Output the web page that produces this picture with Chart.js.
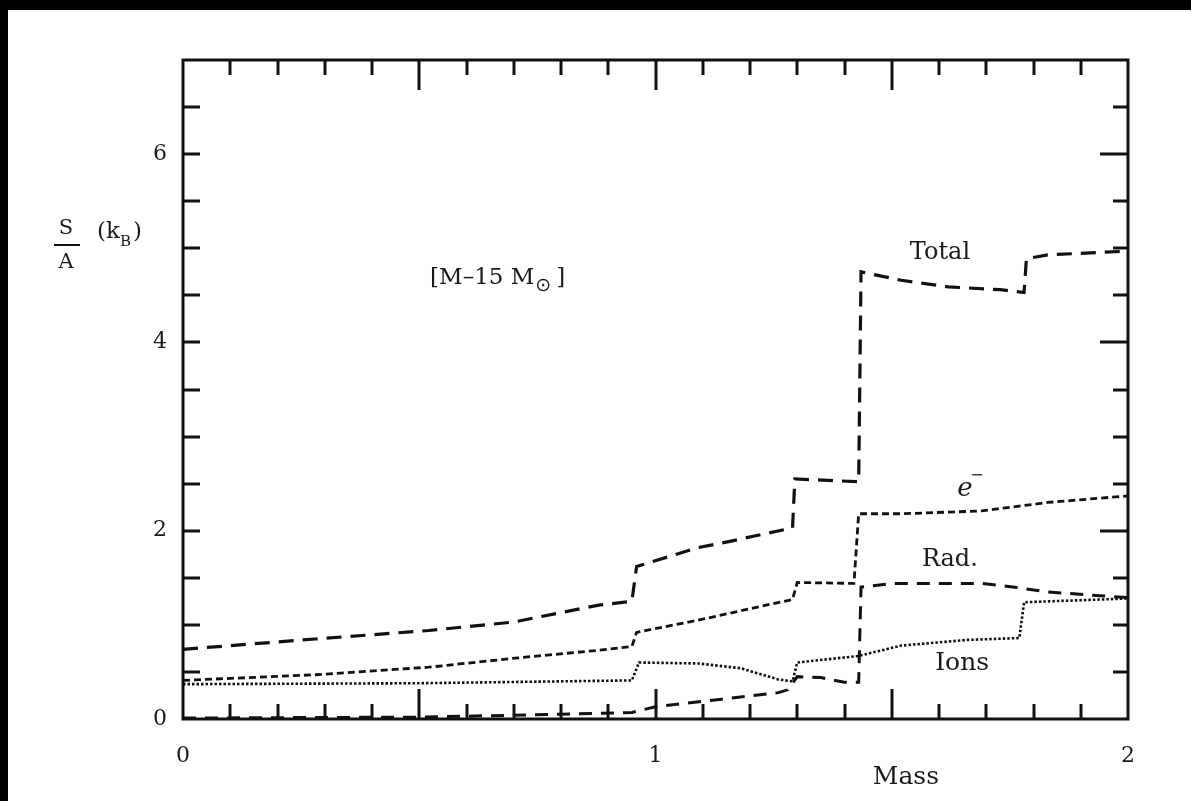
<!DOCTYPE html>
<html><head><meta charset="utf-8">
<script src="https://cdn.jsdelivr.net/npm/chart.js@4.4.1/dist/chart.umd.min.js"></script>
<style>
html,body{margin:0;padding:0;background:#000;width:1191px;height:801px;overflow:hidden}
#wrap{position:absolute;left:8px;top:10px;width:1183px;height:791px;background:#fff}
canvas{display:block}
</style></head><body>
<div id="wrap"><canvas id="c" width="1183" height="791"></canvas></div>
<script>
// ---- data (Mass in x, S/A in k_B in y) ----
const totalMass = [0, 0.28, 0.52, 0.70, 0.88, 0.95, 0.96, 1.09, 1.16, 1.29, 1.295, 1.43, 1.435, 1.52, 1.62, 1.73, 1.78, 1.785, 1.83, 2.0];
const totalS    = [0.74, 0.85, 0.94, 1.03, 1.21, 1.25, 1.62, 1.82, 1.89, 2.03, 2.55, 2.52, 4.75, 4.66, 4.59, 4.56, 4.53, 4.89, 4.93, 4.97];

const elecMass = [0, 0.28, 0.52, 0.71, 0.88, 0.95, 0.96, 1.09, 1.29, 1.30, 1.42, 1.43, 1.52, 1.69, 1.83, 2.0];
const elecS    = [0.41, 0.47, 0.55, 0.65, 0.73, 0.77, 0.92, 1.05, 1.27, 1.45, 1.44, 2.18, 2.18, 2.21, 2.30, 2.37];

const radMass = [0, 0.5, 0.8, 0.95, 1.0, 1.05, 1.14, 1.26, 1.28, 1.30, 1.35, 1.40, 1.43, 1.435, 1.50, 1.69, 1.76, 1.83, 1.94, 2.0];
const radS    = [0.01, 0.02, 0.05, 0.07, 0.13, 0.16, 0.21, 0.28, 0.31, 0.45, 0.44, 0.39, 0.39, 1.40, 1.44, 1.44, 1.40, 1.35, 1.31, 1.29];

const ionsMass = [0, 0.5, 0.95, 0.965, 1.09, 1.18, 1.26, 1.29, 1.30, 1.43, 1.52, 1.66, 1.77, 1.78, 2.0];
const ionsS    = [0.37, 0.38, 0.41, 0.60, 0.59, 0.54, 0.42, 0.40, 0.60, 0.67, 0.78, 0.84, 0.86, 1.24, 1.28];

const xTickLabels = ['0', '1', '2'];
const yTickLabels = ['0', '2', '4', '6'];

const pts = (xs, ys) => xs.map((x, i) => ({x, y: ys[i]}));
const FONT = '"DejaVu Serif", "Liberation Serif", serif';

const framePlugin = {
  id: 'frame',
  afterDraw(chart) {
    const {ctx, chartArea: a, scales: {x, y}} = chart;
    ctx.save();
    ctx.strokeStyle = '#111';
    ctx.lineWidth = 3;
    ctx.lineCap = 'butt';
    ctx.beginPath();
    ctx.rect(a.left, a.top, a.right - a.left, a.bottom - a.top);
    ctx.stroke();
    // x ticks (inward, bottom and top)
    x.ticks.forEach(t => {
      const v = t.value;
      if (v <= x.min + 1e-6 || v >= x.max - 1e-6) return;
      const px = Math.round(x.getPixelForValue(v));
      const major = Math.abs(v * 2 - Math.round(v * 2)) < 1e-6;
      const L = major ? 30 : 15;
      ctx.beginPath();
      ctx.moveTo(px, a.bottom); ctx.lineTo(px, a.bottom - L);
      ctx.moveTo(px, a.top); ctx.lineTo(px, a.top + L);
      ctx.stroke();
    });
    // y ticks (inward, left and right)
    y.ticks.forEach(t => {
      const v = t.value;
      if (v <= y.min + 1e-6 || v >= y.max - 1e-6) return;
      const py = Math.round(y.getPixelForValue(v));
      const major = Math.abs(v / 2 - Math.round(v / 2)) < 1e-6;
      ctx.beginPath();
      ctx.moveTo(a.left, py); ctx.lineTo(a.left + 17, py);
      ctx.moveTo(a.right, py); ctx.lineTo(a.right - (major ? 28 : 15), py);
      ctx.stroke();
    });

    // annotations
    ctx.fillStyle = '#1a1a1a';
    ctx.textAlign = 'center';
    ctx.textBaseline = 'middle';
    ctx.font = '24px ' + FONT;
    ctx.fillText('Total', x.getPixelForValue(1.602), y.getPixelForValue(4.95));
    ctx.fillText('Rad.', x.getPixelForValue(1.623), y.getPixelForValue(1.69));
    ctx.font = '25px ' + FONT;
    ctx.fillText('Ions', x.getPixelForValue(1.649), y.getPixelForValue(0.59));
    // e-
    const ex = x.getPixelForValue(1.655), ey = y.getPixelForValue(2.44);
    ctx.font = 'italic 26px ' + FONT;
    ctx.fillText('e', ex, ey);
    ctx.font = '16px ' + FONT;
    ctx.fillText('−', ex + 12, ey - 13);

    // [M–15 M⊙]
    ctx.textAlign = 'left';
    let tx = x.getPixelForValue(0.523);
    const ty = y.getPixelForValue(4.68);
    ctx.font = '23px ' + FONT;
    const part1 = '[M–15 M';
    ctx.fillText(part1, tx, ty);
    tx += ctx.measureText(part1).width + 1;
    ctx.font = '19px "DejaVu Sans", sans-serif';
    ctx.fillText('⊙', tx, ty + 8);
    tx += ctx.measureText('⊙').width + 5;
    ctx.font = '23px ' + FONT;
    ctx.fillText(']', tx, ty);

    // x axis title
    ctx.textAlign = 'center';
    ctx.font = '25px ' + FONT;
    ctx.fillText('Mass', x.getPixelForValue(1.53), a.bottom + 58);

    // y axis title: S over A, then (k_B)
    ctx.font = '21px ' + FONT;
    ctx.fillText('S', 58, 219);
    ctx.fillText('A', 58, 253);
    ctx.lineWidth = 2;
    ctx.beginPath(); ctx.moveTo(46, 235); ctx.lineTo(72, 235); ctx.stroke();
    ctx.textAlign = 'left';
    ctx.font = '23px ' + FONT;
    let kx = 89;
    ctx.fillText('(k', kx, 222);
    kx += ctx.measureText('(k').width;
    ctx.font = '15px ' + FONT;
    ctx.fillText('B', kx, 232);
    kx += ctx.measureText('B').width + 2;
    ctx.font = '23px ' + FONT;
    ctx.fillText(')', kx, 222);
    ctx.restore();
  }
};

const common = {fill: false, pointRadius: 0, borderColor: '#111', tension: 0, borderCapStyle: 'butt'};

new Chart(document.getElementById('c'), {
  type: 'line',
  data: {
    datasets: [
      Object.assign({label: 'Total', data: pts(totalMass, totalS), borderWidth: 3.2, borderDash: [15, 9]}, common),
      Object.assign({label: 'e-', data: pts(elecMass, elecS), borderWidth: 2.8, borderDash: [7, 4]}, common),
      Object.assign({label: 'Rad.', data: pts(radMass, radS), borderWidth: 3, borderDash: [13, 9]}, common),
      Object.assign({label: 'Ions', data: pts(ionsMass, ionsS), borderWidth: 2.6, borderDash: [2.5, 2]}, common)
    ]
  },
  options: {
    responsive: false,
    animation: false,
    devicePixelRatio: 1,
    layout: {padding: {top: 50, right: 63, left: 0, bottom: 0}},
    plugins: {legend: {display: false}, tooltip: {enabled: false}},
    scales: {
      x: {
        type: 'linear', min: 0, max: 2,
        grid: {display: false, drawTicks: false},
        border: {display: false},
        afterFit(s) { s.height = 82; },
        ticks: {
          stepSize: 0.1, autoSkip: false, maxRotation: 0, padding: 24,
          color: '#1a1a1a', font: {family: FONT, size: 22},
          callback(v) {
            const r = Math.round(v);
            return Math.abs(v - r) < 1e-6 ? xTickLabels[r] : '';
          }
        }
      },
      y: {
        type: 'linear', min: 0, max: 7,
        grid: {display: false, drawTicks: false},
        border: {display: false},
        afterFit(s) { s.width = 175; },
        ticks: {
          stepSize: 0.5, autoSkip: false, padding: 16,
          color: '#1a1a1a', font: {family: FONT, size: 22},
          callback(v) {
            const r = Math.round(v);
            return (Math.abs(v - r) < 1e-6 && r % 2 === 0) ? yTickLabels[r / 2] : '';
          }
        }
      }
    }
  },
  plugins: [framePlugin]
});
</script>
</body></html>
